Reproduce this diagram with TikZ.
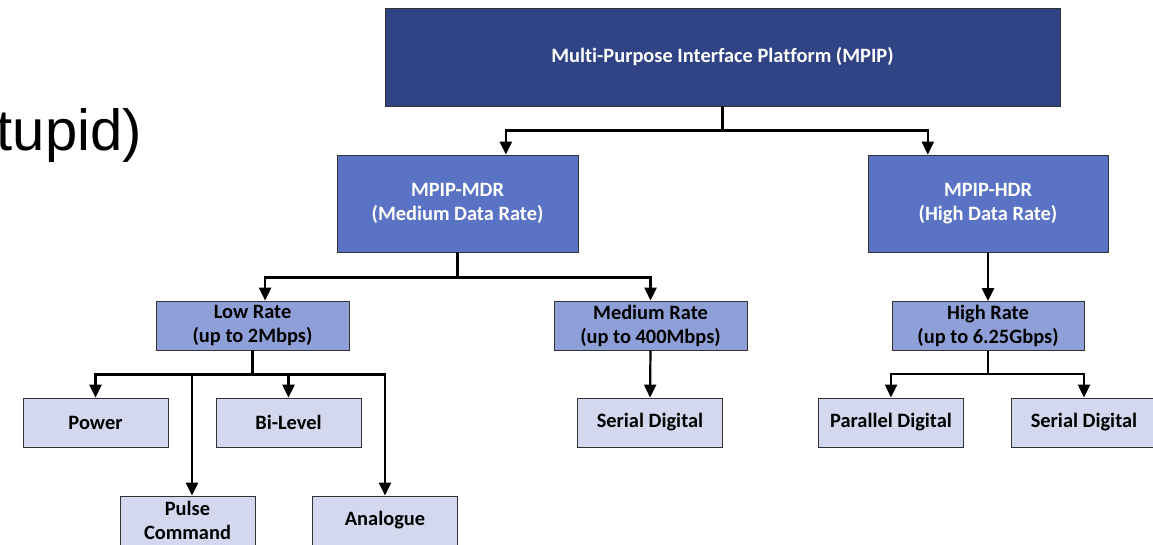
\documentclass[tikz,border=0pt]{standalone}
\usepackage{fontspec}
\setmainfont{Carlito}[Ligatures=NoCommon]
\newfontfamily\slidefont{Liberation Sans}
\usetikzlibrary{arrows.meta,calc}
\definecolor{navy}{RGB}{48,67,133}
\definecolor{midblue}{RGB}{91,115,196}
\definecolor{paleblue}{RGB}{143,160,216}
\definecolor{mistblue}{RGB}{211,216,238}
\definecolor{edgegray}{RGB}{50,50,50}

\begin{document}
\begin{tikzpicture}[x=1pt,y=-1pt,
  box/.style={draw=edgegray, line width=0.8pt, inner sep=0pt, align=center,
    font=\fontsize{20.4}{24}\selectfont\bfseries},
  rootbox/.style={box, fill=navy, text=white, minimum width=675pt, minimum height=98pt},
  databox/.style={box, fill=midblue, text=white, minimum height=97pt},
  ratebox/.style={box, fill=paleblue, text=black, minimum height=49pt},
  leafbox/.style={box, fill=mistblue, text=black, minimum width=145pt, minimum height=49pt},
  link/.style={line width=2.2pt},
  feed/.style={link, -{Triangle[length=13pt,width=12pt]}}]

\fill[white] (0,0) rectangle (1153,544);
\useasboundingbox (0,0) rectangle (1153,544);

% slide title fragment
\node[font=\slidefont\fontsize{58}{60}\selectfont, anchor=base east, inner sep=0pt]
  (slidetitle) at (142,150) {tupid)};

% hierarchy boxes
\node[rootbox] (mpip) at (722.5,57) {Multi-Purpose Interface Platform (MPIP)};
\node[databox, minimum width=241pt] (mdr) at (457.5,203.5) {MPIP-MDR\\(Medium Data Rate)};
\node[databox, minimum width=240pt] (hdr) at (988,203.5) {MPIP-HDR\\(High Data Rate)};
\node[ratebox, minimum width=193pt] (low) at (252.5,325.5) {Low Rate\\(up to 2Mbps)};
\node[ratebox, minimum width=193pt] (med) at (650.5,325.5) {Medium Rate\\(up to 400Mbps)};
\node[ratebox, minimum width=192pt] (high) at (988,326) {High Rate\\(up to 6.25Gbps)};
\node[leafbox] (power) at (95.5,422.5) {Power};
\node[leafbox] (bilevel) at (288.5,422.5) {Bi-Level};
\node[leafbox] (medserial) at (650,422.5) {Serial Digital};
\node[leafbox] (parallel) at (891,422.5) {Parallel Digital};
\node[leafbox] (highserial) at (1084,422.5) {Serial Digital};
\node[leafbox, minimum width=135pt] (pulse) at (187.5,520.5) {Pulse\\Command};
\node[leafbox] (analogue) at (385,520.5) {Analogue};

% platform -> data-rate families
\coordinate (topbus) at ($(mpip.south)+(0,24)$);
\draw[link] (mpip.south) -- (topbus);
\draw[feed] (topbus) -| ($(mdr.north west)!0.7!(mdr.north east)$);
\draw[feed] (topbus) -| ($(hdr.north west)!0.25!(hdr.north east)$);

% medium data rate branch
\coordinate (mdrbus) at ($(mdr.south)+(0,25)$);
\draw[link] (mdr.south) -- (mdrbus);
\draw[feed] (mdrbus) -| ($(low.north west)!0.565!(low.north east)$);
\draw[feed] (mdrbus) -| (med.north);
\draw[feed] (med.south) -- (medserial.north);

% low rate interfaces
\coordinate (lowbus) at ($(low.south)+(0,24)$);
\draw[link] (low.south) -- (lowbus);
\draw[feed] (lowbus) -| (power.north);
\draw[feed] (lowbus) -| (bilevel.north);
\draw[feed] (lowbus) -| ($(pulse.north west)!0.533!(pulse.north east)$);
\draw[feed] (lowbus) -| (analogue.north);

% high data rate branch
\draw[feed] (hdr.south) -- (high.north);
\coordinate (highbus) at ($(high.south)+(0,23)$);
\draw[link] (high.south) -- (highbus);
\draw[feed] (highbus) -| (parallel.north);
\draw[feed] (highbus) -| (highserial.north);
\end{tikzpicture}
\end{document}
